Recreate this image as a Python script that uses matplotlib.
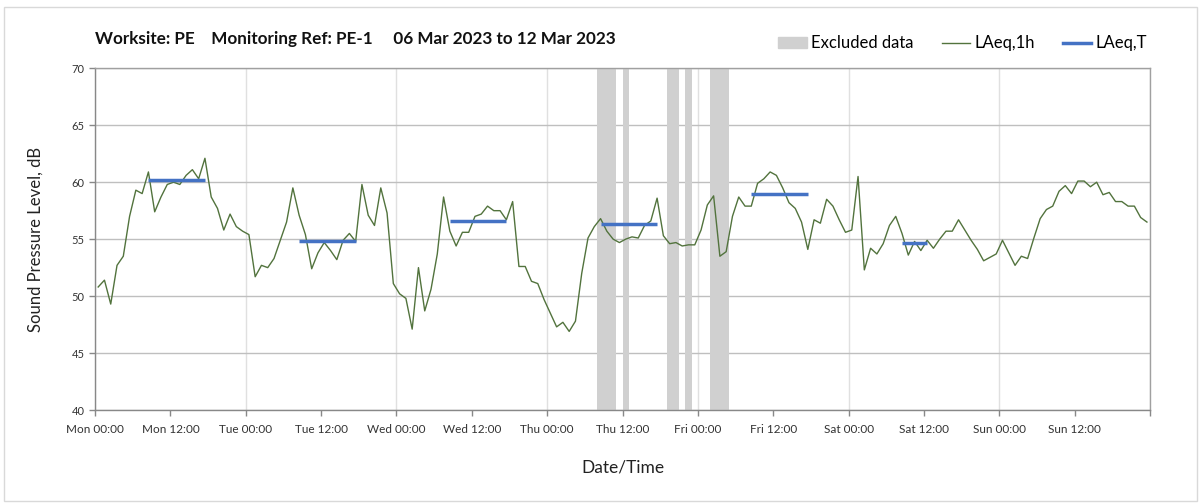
import matplotlib.pyplot as plt
import matplotlib.patches as mpatches
from matplotlib.lines import Line2D
import numpy as np

plt.rcParams['font.family'] = ['Lato', 'DejaVu Sans']

# Hourly LAeq,1h values from Mon 00:00 to Sun 23:00
laeq_1h = [
    50.8, 51.4, 49.3, 52.7, 53.5, 57.0, 59.3, 59.0, 60.9, 57.4, 58.7, 59.8,
    60.0, 59.8, 60.6, 61.1, 60.3, 62.1, 58.7, 57.7, 55.8, 57.2, 56.1, 55.7,
    55.4, 51.7, 52.7, 52.5, 53.3, 54.9, 56.5, 59.5, 57.1, 55.4, 52.4, 53.8,
    54.7, 54.0, 53.2, 54.9, 55.5, 54.8, 59.8, 57.1, 56.2, 59.5, 57.3, 51.1,
    50.2, 49.8, 47.1, 52.5, 48.7, 50.6, 53.7, 58.7, 55.7, 54.4, 55.6, 55.6,
    57.0, 57.2, 57.9, 57.5, 57.5, 56.7, 58.3, 52.6, 52.6, 51.3, 51.1, 49.7,
    48.5, 47.3, 47.7, 46.9, 47.8, 52.0, 55.1, 56.1, 56.8, 55.7, 55.0, 54.7,
    55.0, 55.2, 55.1, 56.2, 56.6, 58.6, 55.3, 54.6, 54.7, 54.4, 54.5, 54.5,
    55.8, 58.0, 58.8, 53.5, 53.9, 57.0, 58.7, 57.9, 57.9, 59.9, 60.3, 60.9,
    60.6, 59.5, 58.2, 57.7, 56.5, 54.1, 56.7, 56.4, 58.5, 57.9, 56.7, 55.6,
    55.8, 60.5, 52.3, 54.2, 53.7, 54.6, 56.2, 57.0, 55.5, 53.6, 54.8, 54.0,
    54.9, 54.2, 55.0, 55.7, 55.7, 56.7, 55.8, 54.9, 54.1, 53.1, 53.4, 53.7,
    54.9, 53.8, 52.7, 53.5, 53.3, 55.1, 56.8, 57.6, 57.9, 59.2, 59.7, 59.0,
    60.1, 60.1, 59.6, 60.0, 58.9, 59.1, 58.3, 58.3, 57.9, 57.9, 56.9, 56.5,
]

# LAeq,T periods (hour index from Mon 00:00)
laeq_t_start = [8, 32, 56, 80, 104, 128]
laeq_t_end = [17, 41, 65, 89, 113, 132]
laeq_t = [60.2, 54.8, 56.6, 56.3, 59.0, 54.7]

# Excluded data periods (hours from Mon 00:00)
excl_start = [80, 84, 91, 94, 98]
excl_end = [83, 85, 93, 95, 101]

days = ['Mon', 'Tue', 'Wed', 'Thu', 'Fri', 'Sat', 'Sun']
tick_labels = [f'{d} {t}' for d in days for t in ['00:00', '12:00']]

x = np.arange(len(laeq_1h)) + 0.5

fig = plt.figure(figsize=(12.03, 5.04), dpi=100)
ax = fig.add_axes([0.079, 0.1865, 0.877, 0.678])

for s, e in zip(excl_start, excl_end):
    ax.axvspan(s, e, color='#d0d0d0', lw=0, zorder=1)

for d in range(0, 169, 24):
    ax.axvline(d, color='#e0e0e0', lw=1, zorder=0.5)
for yv in range(40, 71, 5):
    ax.axhline(yv, color='#bfbfbf', lw=1, zorder=0.5)

ax.plot(x, laeq_1h, color='#52733d', lw=1, zorder=3)
for s, e, v in zip(laeq_t_start, laeq_t_end, laeq_t):
    ax.plot([s + 0.5, e + 0.5], [v, v], color='#4472c4', lw=2.5, zorder=4,
            solid_capstyle='butt')

ax.set_xlim(0, 168)
ax.set_ylim(40, 70)
ax.set_xticks(np.arange(0, 169, 12))
ax.set_xticklabels(tick_labels + [''], fontsize=8.5, color='#333333')
ax.set_yticks(np.arange(40, 71, 5))
ax.set_yticklabels([str(v) for v in range(40, 71, 5)], fontsize=8, color='#333333')
ax.tick_params(axis='both', direction='out', length=4, color='#888888', width=1)
ax.tick_params(axis='x', pad=6)
for sp in ax.spines.values():
    sp.set_color('#a0a0a0')
    sp.set_linewidth(1)
ax.spines['left'].set_color('#888888')
ax.spines['bottom'].set_color('#888888')

ax.set_ylabel('Sound Pressure Level, dB', fontsize=12, color='#222222', labelpad=20)
ax.set_xlabel('Date/Time', fontsize=12.5, color='#222222', labelpad=18)

fig.text(0.079, 0.923, 'Worksite: PE    Monitoring Ref: PE-1     06 Mar 2023 to 12 Mar 2023',
         fontsize=12.3, fontweight='bold', color='#111111', va='center', ha='left')

handles = [mpatches.Patch(color='#d0d0d0', label='Excluded data'),
           Line2D([], [], color='#52733d', lw=1, label='LAeq,1h'),
           Line2D([], [], color='#4472c4', lw=2.5, label='LAeq,T')]
fig.legend(handles=handles, loc='center right', bbox_to_anchor=(0.966, 0.914),
           ncol=3, frameon=False, fontsize=12, handlelength=1.7,
           handletextpad=0.25, columnspacing=1.7)

fig.patches.append(mpatches.Rectangle((0.003, 0.005), 0.992, 0.982, transform=fig.transFigure,
                                      fill=False, edgecolor='#d9d9d9', lw=1))

fig.savefig('out.png', dpi=100)
